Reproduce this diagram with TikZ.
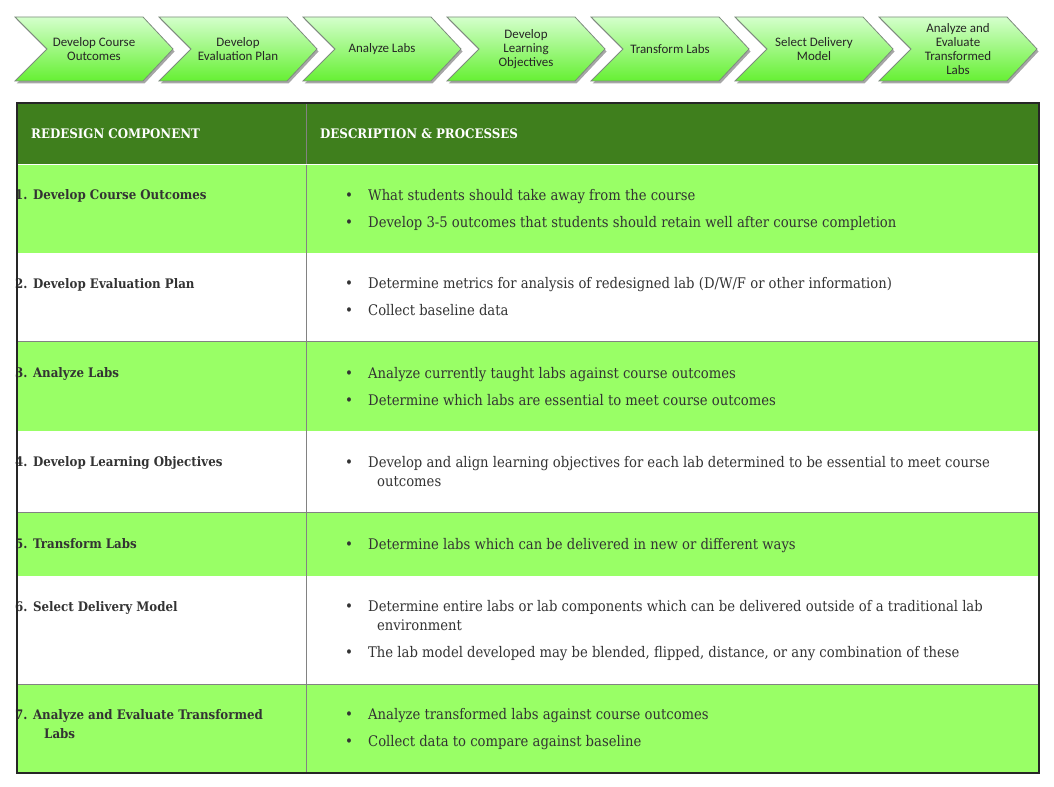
\documentclass[tikz,border=0pt]{standalone}
\usepackage{fontspec}
\setmainfont{DejaVu Serif Condensed}
\newfontfamily\chevfont{Carlito}
\usetikzlibrary{shadows}
\definecolor{hdr}{RGB}{63,127,29}
\definecolor{rowg}{RGB}{153,255,102}
\definecolor{txt}{RGB}{51,51,51}
\definecolor{chtop}{RGB}{212,255,204}
\definecolor{chbot}{RGB}{102,240,51}
\definecolor{chedge}{RGB}{125,140,125}
\definecolor{rule}{RGB}{130,130,130}
\begin{document}
\begin{tikzpicture}[x=1bp,y=-1bp,
  chev/.style={draw=chedge, line width=0.8bp, top color=chtop, bottom color=chbot,
    drop shadow={shadow xshift=1.5bp, shadow yshift=-2.5bp, opacity=0.35, fill=black}},
  chevtxt/.style={font=\chevfont\fontsize{13}{14}\selectfont, align=center, text=black!85, inner sep=0},
  body/.style={font=\fontsize{14.7}{19}\selectfont, text=txt, anchor=base west, inner sep=0, align=left},
  lbl/.style={body, font=\bfseries\fontsize{13.2}{19}\selectfont},
  hdrtxt/.style={anchor=base west, inner sep=0, text=white, font=\bfseries\fontsize{13.2}{15}\selectfont},
  bul/.style={body, font=\fontsize{15}{19}\selectfont}
]
\useasboundingbox (0,0) rectangle (1054,787);
\fill[white] (0,0) rectangle (1054,787);
% chevrons
\foreach \i/\t in {1/{Develop Course\\Outcomes},2/{Develop\\Evaluation Plan},3/{Analyze Labs},4/{Develop\\Learning\\Objectives},5/{Transform Labs},6/{Select Delivery\\Model},7/{Analyze and\\Evaluate\\Transformed\\Labs}}{
  \pgfmathsetmacro\L{15+144*(\i-1)}
  \path[chev] (\L,17) -- ++(128,0) -- ++(30,32) -- ++(-30,32) -- ++(-128,0) -- ++(32,-32) -- cycle;
  \node[chevtxt] (c\i) at (\L+79,49) {\t};
}
% table backgrounds
\fill[hdr] (17,103) rectangle (1039,163.5);
\fill[rowg] (17,165) rectangle (1039,252.5);
\fill[rowg] (17,342) rectangle (1039,430.5);
\fill[rowg] (17,513) rectangle (1039,575.5);
\fill[rowg] (17,685) rectangle (1039,773);
% rules
\draw[rule, line width=1bp] (17,341) -- (1039,341);
\draw[rule, line width=1bp] (17,512) -- (1039,512);
\draw[rule, line width=1bp] (17,684) -- (1039,684);
\draw[rule, line width=1bp] (306,103) -- (306,773);
\draw[white, line width=1bp] (17,164.2) -- (1039,164.2);
% header text
\node[hdrtxt] (h1) at (31,138.5) {REDESIGN COMPONENT};
\node[hdrtxt] (h2) at (320,138.5) {DESCRIPTION \& PROCESSES};
% left column
\node[lbl] (r1) at (15,199) {1. Develop Course Outcomes};
\node[lbl] (r2) at (15,288) {2. Develop Evaluation Plan};
\node[lbl] (r3) at (15,377) {3. Analyze Labs};
\node[lbl] (r4) at (15,466) {4. Develop Learning Objectives};
\node[lbl] (r5) at (15,548) {5. Transform Labs};
\node[lbl] (r6) at (15,611) {6. Select Delivery Model};
\node[lbl] (r7) at (15,738) {7. Analyze and Evaluate Transformed\\\hspace*{29bp}Labs};
% bullets
\foreach \n/\y in {a/200,b/227,c/288,d/315,e/378,f/405,g/467,h/549,i/611,j/657,k/719,l/746}{
  \node[bul] (p\n) at (345,\y) {•};
}
\node[body] (d1) at (368,200) {What students should take away from the course};
\node[body] (d2) at (368,227) {Develop 3-5 outcomes that students should retain well after course completion};
\node[body] (d3) at (368,288) {Determine metrics for analysis of redesigned lab (D/W/F or other information)};
\node[body] (d4) at (368,315) {Collect baseline data};
\node[body] (d5) at (368,378) {Analyze currently taught labs against course outcomes};
\node[body] (d6) at (368,405) {Determine which labs are essential to meet course outcomes};
\node[body] (d7) at (368,486) {Develop and align learning objectives for each lab determined to be essential to meet course\\\hspace*{9bp}outcomes};
\node[body] (d8) at (368,549) {Determine labs which can be delivered in new or different ways};
\node[body] (d9) at (368,630) {Determine entire labs or lab components which can be delivered outside of a traditional lab\\\hspace*{9bp}environment};
\node[body] (d10) at (368,657) {The lab model developed may be blended, flipped, distance, or any combination of these};
\node[body] (d11) at (368,719) {Analyze transformed labs against course outcomes};
\node[body] (d12) at (368,746) {Collect data to compare against baseline};
% outer border
\draw[black!85, line width=1.3bp] (17,103) rectangle (1039,773);
\end{tikzpicture}
\end{document}
